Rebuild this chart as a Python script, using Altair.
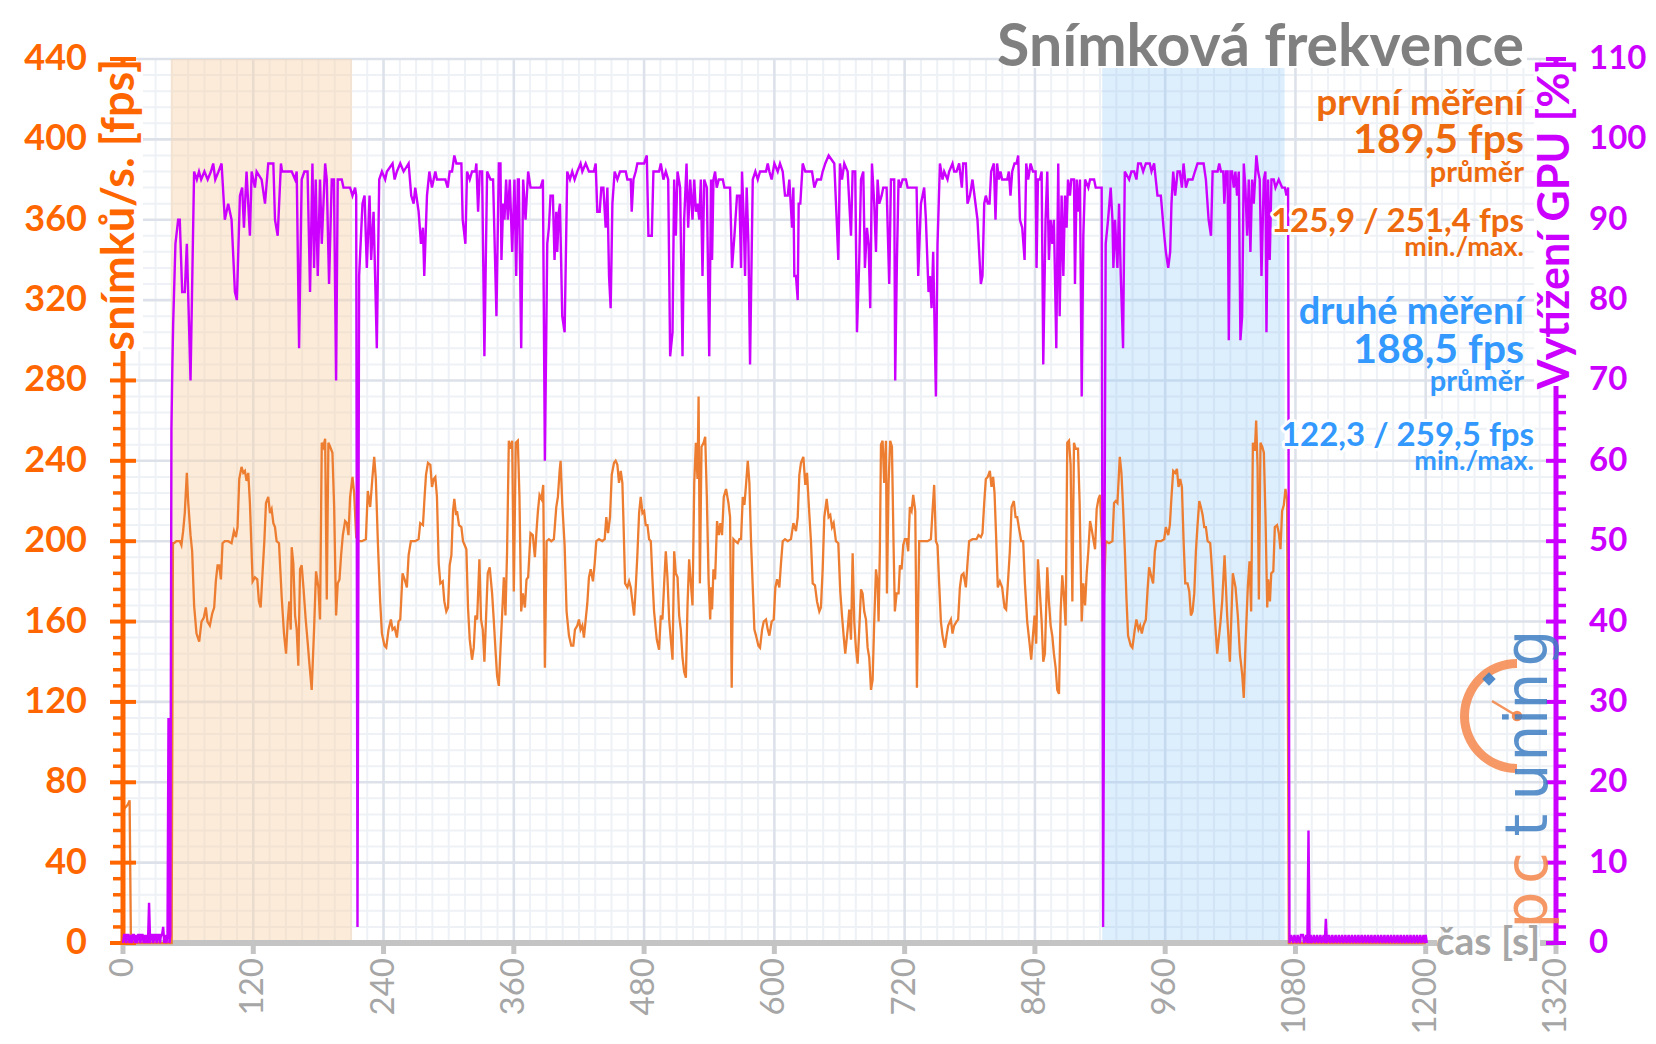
import altair as alt
import pandas as pd

# ---------------- data ----------------
# frame rate [fps] : (time s, fps)
fps_points = [
(0,62),(1.2,67),(3,68),(4.5,69),(6.1,71),(7.3,0),(44.8,0),(46,199),(47.1,199),(49.2,200),(52.3,200),(53.8,198),
(55.4,205),(56.9,214),(58.8,234),(60,220),(62.2,203),(63.7,195),(65.5,168),(67.7,154),(70.2,150),(72.3,160),
(74.5,162),(76.3,167),(77.8,160),(80,158),(82.2,164),(84,167),(85.5,180),(87.1,188),(88.6,188),(90.2,181),
(91.7,199),(93.8,200),(96.9,200),(100,199),(102.2,205),(104,202),(105.5,207),(107.1,231),(109.2,237),(110.8,234),
(112.3,235),(113.8,230),(115.4,234),(116.9,219),(119.4,180),(121.5,182),(123.7,181),(125.2,170),(126.8,167),
(128.3,182),(130.2,200),(131.7,219),(133.8,222),(135.4,214),(136.9,216),(138.5,209),(140,207),(141.5,200),
(143.7,199),(146.2,172),(148.3,154),(150.2,144),(151.7,160),(153.2,170),(154.5,156),(155.4,197),(156.9,189),
(158.5,163),(160,156),(161.5,138),(163.1,186),(164.6,188),(166.2,177),(168.3,161),(170.2,149),(171.7,139),
(173.8,126),(176,156),(177.8,185),(180,177),(181.5,161),(183.1,249),(184.6,247),(186.2,251),(187.7,171),
(189.2,249),(190.8,247),(192.9,244),(194.5,217),(196.3,163),(197.8,179),(199.4,181),(200.9,193),(202.5,203),
(204.6,210),(206.2,209),(207.7,203),(209.2,222),(211.4,232),(212.9,224),(214.8,202),(216.9,200),(220,200),
(223.7,201),(225.5,225),(227.7,217),(229.8,232),(231.4,242),(232.9,231),(234.8,199),(236.9,170),(238.5,154),
(240.9,148),(242.5,147),(244.6,156),(246.8,161),(248.3,156),(250.2,157),(252.3,152),(253.8,160),(255.4,161),
(257.5,184),(259.4,181),(261.5,177),(263.1,193),(265.2,200),(269.2,200),(272.3,201),(273.8,209),(276.3,208),
(277.8,222),(279.1,233),(280.9,239),(283.1,238),(284.6,227),(286.2,231),(287.7,232),(289.2,222),(290.8,189),
(292.3,179),(294.5,180),(296,170),(297.8,165),(299.4,167),(300.9,188),(302.5,193),(304,215),(305.2,221),
(306.8,213),(307.7,215),(309.5,208),(311.7,207),(313.2,200),(314.8,198),(316.3,196),(317.8,167),(319.4,151),
(321.5,141),(323.1,147),(324.6,163),(326.2,161),(328.3,191),(329.8,161),(331.4,156),(332.9,140),(334.5,163),
(336,184),(337.8,187),(340,174),(341.5,161),(343.1,146),(344.6,133),(346.2,128),(347.7,146),(349.2,163),
(350.8,182),(352.3,163),(353.8,195),(355.4,250),(356.9,246),(358.5,250),(360,175),(361.8,249),(363.7,250),
(365.2,222),(366.8,165),(368.3,174),(370.2,167),(371.7,181),(373.2,182),(375.4,204),(377.5,203),(379.4,192),
(380.9,205),(382.2,215),(383.7,223),(385.5,221),(387.1,228),(388.6,137),(390.2,200),(392.3,201),(394.5,200),
(396.9,201),(399.1,217),(400.6,222),(402.2,235),(403.1,240),(404.6,219),(406.8,198),(408.6,165),(410.8,153),
(412.9,148),(414.8,148),(416.3,156),(418.5,158),(420,161),(421.5,156),(423.1,158),(424.6,152),(426.2,161),
(427.7,169),(429.2,182),(430.8,186),(432.9,180),(434.5,189),(436,200),(438.5,201),(441.5,200),(443.7,201),
(445.2,212),(446.8,204),(448.6,212),(450.2,233),(452.3,239),(453.8,240),(455.4,238),(456.9,229),(458.5,235),
(460,229),(460.9,212),(462.5,179),(464.6,177),(466.2,180),(467.7,177),(469.2,170),(470.8,163),(472.3,177),
(473.8,193),(475.4,214),(476.9,222),(478.5,214),(480,215),(481.5,208),(483.1,208),(484.6,201),(486.2,200),
(487.7,181),(489.2,165),(491.7,151),(493.8,146),(495.4,163),(496.9,161),(498.5,179),(500,195),(501.5,182),
(503.1,161),(504.6,151),(506.2,141),(507.7,195),(509.2,184),(510.8,182),(512.3,163),(513.8,156),(515.4,142),
(516.9,135),(518.5,132),(520,168),(521.5,191),(523.1,179),(524.6,168),(526.2,229),(527.7,249),(529.2,231),
(530.2,272),(531.4,179),(532.9,247),(534.8,249),(536.3,252),(537.8,222),(539.4,181),(540.9,161),(541.7,177),
(542.6,166),(543.9,186),(545.4,181),(547.2,210),(548.8,203),(550.3,209),(551.8,203),(553.4,222),(555.5,226),
(557.7,219),(559.2,212),(560.7,127),(562.3,201),(564.1,200),(566.3,199),(567.8,201),(569.3,201),(570.9,222),
(572.4,218),(573.9,228),(575.5,240),(577,229),(578.5,200),(580.1,177),(581.6,156),(583.1,153),(585.3,148),
(586.8,147),(588.7,156),(590.2,160),(592.3,161),(593.9,156),(595.4,153),(597.5,160),(599.4,161),(600.9,177),
(602.5,181),(604.6,177),(606.1,189),(607.7,200),(609.8,201),(612.3,200),(615.3,201),(617.5,209),(619.9,205),
(621.5,212),(623,233),(624.5,239),(626.7,242),(628.5,228),(630.1,234),(631.6,219),(633.7,200),(635.3,179),
(637.4,178),(639.3,170),(641.4,165),(642.9,167),(644.5,186),(646,212),(648.2,221),(650,212),(651.5,213),
(653.1,207),(654.6,209),(656.7,200),(658.9,199),(660.7,175),(662.3,163),(663.8,153),(665.3,144),(667.5,156),
(669,166),(670.6,151),(672.1,194),(673.6,160),(675.2,146),(676.7,139),(678.2,156),(679.8,176),(681.3,174),
(682.8,165),(684.4,161),(685.9,147),(687.4,142),(689,126),(690.5,131),(692,160),(693.6,186),(695.1,179),
(696,160),(697.2,196),(698.2,248),(699.7,250),(701.2,229),(702.8,250),(703.7,174),(705.2,229),(706.7,250),
(708.3,247),(709.8,198),(711,165),(712.6,174),(714.4,174),(715.6,188),(717.2,186),(718.7,198),(720.2,201),
(721.8,201),(723.3,195),(724.8,217),(726.4,215),(727.9,223),(729.8,215),(731.3,127),(733.4,200),(736.5,200),
(741.1,200),(744.2,201),(745.7,215),(747.2,228),(748.8,200),(750.3,198),(751.8,179),(753.4,160),(754.9,153),
(757.1,147),(758.6,153),(760.1,158),(762.6,161),(764.1,154),(765.6,158),(767.8,160),(769.3,161),(770.9,177),
(772.4,183),(774.2,184),(776.4,177),(777.9,189),(779.4,200),(782.5,201),(786.2,201),(788,203),(790.2,202),
(791.7,204),(793.3,219),(794.8,231),(796.6,232),(798.5,235),(800,227),(801.5,232),(802.8,224),(804.3,202),
(805.8,177),(807.7,180),(809.8,177),(812,167),(813.5,166),(815.1,179),(816.9,195),(818.5,217),(820.6,220),
(822.2,212),(823.7,212),(825.8,205),(827.4,200),(829.2,200),(830.8,179),(832.9,160),(835.1,149),(836.6,141),
(838.2,153),(839.7,163),(841.2,149),(842.8,191),(844.3,177),(846.2,160),(847.7,140),(849.2,144),(851.4,187),
(852.9,170),(854.5,158),(856,153),(857.5,144),(859.1,137),(860.6,126),(862.2,124),(863.7,165),(865.2,183),
(866.8,172),(868.3,158),(869.8,249),(871.4,250),(872.9,238),(874.5,170),(876,249),(877.5,246),(879.7,246),
(881.2,219),(883.1,160),(884.6,179),(886.2,168),(887.7,184),(889.2,195),(890.8,210),(892.3,206),(893.8,201),
(895.4,196),(896.9,216),(898.5,221),(900,223),(901.5,202),(903.7,174),(905.2,200),(908.3,199),(911.4,200),
(912.9,219),(914.5,220),(916,219),(918.2,242),(919.7,234),(921.2,217),(922.8,196),(924.3,172),(925.8,153),
(928.3,148),(929.8,147),(932,156),(933.5,161),(935.4,156),(936.9,158),(938.5,154),(940,158),(942.2,161),
(943.7,175),(945.2,187),(947.4,182),(948.9,179),(950.5,195),(952,200),(956,200),(959.1,201),(960.6,207),
(962.8,203),(964.3,208),(965.8,222),(967.4,235),(969.2,234),(970.8,236),(972.3,227),(973.8,231),(975.4,227),
(976.9,201),(978.5,179),(980.6,179),(982.2,175),(983.7,163),(985.2,165),(986.8,174),(988.3,195),(989.8,208),
(991.4,220),(992.9,217),(994.5,213),(996,207),(997.5,207),(999.1,200),(1001.5,199),(1003.1,186),(1004.8,170),
(1007.9,144),(1011,160),(1012.5,170),(1014.7,193),(1017.1,163),(1019.6,140),(1022.3,184),(1024.8,177),
(1026.9,163),(1028.8,144),(1030.9,134),(1032.4,122),(1034,149),(1036.1,177),(1037.7,190),(1039.2,165),
(1040.8,249),(1042.6,245),(1043.8,260),(1045.1,237),(1046.3,171),(1047.8,249),(1049.4,247),(1050.9,244),
(1052.4,212),(1054,167),(1054.9,181),(1056.5,170),(1057.7,184),(1059.6,185),(1061,207),(1063.1,208),
(1064.7,204),(1066.2,196),(1067.7,215),(1069.3,218),(1070.8,226),(1072.3,221),(1073.9,0),(1200,0)]

# GPU load [%] : (time s, %)
gpu_points = [
(0,0),(1,1),(2,1),(3,0),(4,1),(5,1),(6,0),(7,1),(8,0),(9,1),(10,1),(11,0),(12,1),(13,0),(14,1),(15,1),(16,0),
(17,1),(18,1),(19,0),(20,1),(21,0),(22,1),(23,0),(24,5),(25,0),(26,1),(27,1),(28,0),(29,1),(30,1),(31,0),(32,1),
(33,1),(34,0),(35,1),(36,1),(37,2),(38,0),(39,1),(40,0),(41,1),(41.9,28),(42.8,0),(43.6,1),
(44.6,64),(45.5,72),(46.2,77),(48.3,87),(50.8,90),(52.3,90),(54.5,81),(56.9,81),(58.8,87),(62.2,70),(65.5,96),
(68,95),(70,96),(72,95),(75,96),(78,95),(81,96),(83.1,97),(85,95),(88,96),(90.8,97),(93.8,90),(96.9,92),(100,90),
(103.1,81),(104.9,80),(107.7,93),(109.8,94),(111.4,89),(113.8,96),(116.9,88),(118.5,96),(121.5,94),(123.1,96),
(127.7,95),(130.8,92),(133.8,97),(138.5,97),(140,90),(142.5,88),(145.5,97),(146.5,96),(155.4,96),(158.5,95),
(160,96),(162.2,74),(164.6,95),(167.1,96),(170,96),(172.3,81),(174.5,97),(176,84),(177.5,95),(179.4,83),
(181.5,95),(183.1,87),(186.2,97),(187.7,95),(189.8,82),(192.3,95),(194.3,95),(196.3,70),(197.8,95),(201.5,95),
(203.1,94),(209.2,94),(211.4,93),(213.8,94),(214.8,93),(216,2),(217.5,83),(220.6,92),(222.5,93),(224.6,84),
(227.1,93),(228.6,85),(230.8,91),(233.8,74),(236,95),(238.5,96),(241.5,95),(243.1,96),(248.3,97),(250.2,95),
(252.3,96),(255.4,97),(258.5,96),(263.1,97),(265.5,93),(267.7,92),(269.2,94),(272.3,91),(274.5,87),(276.3,89),
(277.5,83),(280,93),(282.2,96),(284.6,94),(287.7,96),(289.2,95),(296.9,95),(299.1,94),(300.9,96),(303.1,96),
(305.2,98),(307.1,97),(311.7,97),(312.9,90),(315.4,87),(316.9,96),(319.4,95),(321.5,96),(324.6,96),(325.5,97),
(327.1,91),(328.6,96),(330.8,96),(332.9,73),(335.4,96),(338.5,95),(340.9,95),(344,78),(346.2,97),(347.7,97),
(348.6,85),(350.2,92),(351.4,90),(352.9,95),(354.5,90),(356.3,95),(358.5,86),(360.6,95),(362.2,83),(363.7,95),
(364.6,95),(366.8,74),(368.6,95),(370.8,90),(373.2,96),(375.4,94),(384.6,94),(386.8,95),(388.6,60),(390.8,87),
(392.3,89),(393.8,93),(396,93),(397.5,85),(399.1,91),(400,86),(401.5,91),(402.5,92),(404.6,78),(406.8,76),
(409.2,96),(411.7,95),(413.8,96),(416,95),(418.5,96),(421.5,97),(423.1,96),(426.2,97),(429.2,96),(433.8,96),
(435.4,97),(436.9,91),(439.1,91),(440.6,94),(442.5,94),(444.6,89),(446.2,94),(447.7,83),(449.2,79),(450.8,92),
(452.9,96),(455.4,95),(457.8,96),(463.1,96),(464.6,95),(467.7,95),(468.6,91),(470.2,95),(472.3,96),(473.8,97),
(480,97),(482.5,98),(484,88),(487.1,88),(488.6,96),(493.8,96),(495.4,97),(497.8,95),(500,96),(502.2,95),(504,73),
(506.2,76),(507.7,95),(509.2,88),(510.8,96),(513.2,94),(515.4,73),(516.9,90),(519.1,97),(520.6,89),(522.5,95),
(524.6,90),(526.2,95),(527.7,91),(529.2,92),(530.8,90),(532.3,95),(533.8,83),(535.4,95),(537.8,94),(540,73),
(541.7,95),(542.6,85),(543.9,95),(545.4,96),(546.9,94),(548.8,95),(552.5,95),(554,94),(559.2,94),(561,84),
(563.2,88),(565.6,93),(567.8,93),(569.3,84),(570.2,96),(571.8,90),(573,83),(574.5,94),(576.1,87),(577.6,72),
(580.1,95),(582.5,96),(584.7,95),(586.8,96),(592.3,96),(593.9,97),(595.4,96),(597.5,95),(600,97),(603.1,96),
(605.2,97),(607.7,96),(609.8,93),(612.3,93),(613.8,95),(616.3,89),(617.5,94),(618.4,83),(619.9,83),(621.5,80),
(622.4,92),(623.9,92),(626.1,97),(628.5,96),(634.7,96),(636.8,94),(639.3,95),(642.9,95),(644.5,96),(646.9,97),
(650,98),(655.2,97),(657.4,90),(658.9,85),(660.4,97),(662.3,95),(664.4,97),(667.5,96),(670.6,88),(672.1,96),
(674.5,96),(676.1,76),(678.2,85),(679.8,95),(681.9,96),(683.4,84),(685.3,89),(686.8,87),(688.3,79),(689.9,97),
(692,92),(693.6,86),(695.1,95),(696.6,92),(698.8,93),(700.3,94),(703.4,94),(705.8,82),(707.4,95),(710.4,95),
(711.3,70),(712.9,85),(714.4,95),(716,94),(718.1,95),(721.2,95),(722.7,94),(731,94),(732.5,83),(735,92),
(738,94),(739.6,90),(742,81),(743.3,83),(744.8,79),(746.3,86),(748.8,68),(750.3,87),(752.5,97),(754.9,95),
(756.4,96),(759.5,95),(761,96),(764.1,97),(765.6,96),(767.8,96),(770.2,97),(772.7,94),(773.9,97),(776.4,97),
(777.9,92),(780.1,93),(782.5,95),(787.1,90),(790.2,82),(791.7,83),(793.3,92),(794.8,93),(796.6,92),(798.2,92),
(799.7,96),(802.2,97),(803.7,90),(805.2,97),(806.8,95),(808.3,96),(809.8,95),(814.5,95),(816,96),(817.5,93),
(819.1,96),(821.2,97),(823.1,97),(824.6,98),(826.2,90),(828.3,89),(830.5,85),(832,97),(833.8,95),(836,97),
(838.2,96),(840.6,96),(841.5,84),(842.8,95),(844.6,95),(846.2,96),(847.7,72),(849.8,90),(851.4,96),(852.9,85),
(854.5,90),(856,87),(857.5,90),(859.7,74),(861.5,97),(862.8,78),(864.6,93),(866.2,83),(867.7,93),(869.2,89),
(870.5,95),(872.3,93),(873.5,95),(876,95),(876.9,82),(878.5,95),(880,91),(881.5,95),(883.1,68),(884.6,88),
(886.2,95),(889.2,94),(890.8,95),(894.5,95),(896,94),(901.5,94),(902.8,2),(905.2,87),(907.4,90),(909.8,94),
(911.4,90),(912.3,84),(913.8,90),(916,84),(917.5,92),(919.1,83),(921.2,74),(922.8,96),(926.8,95),(928.9,96),
(931.4,96),(933.5,95),(935.1,97),(937.5,97),(939.7,96),(942.2,97),(945.8,97),(947.4,96),(949.8,97),(952.9,93),
(956,93),(958.5,89),(960.6,86),(962.8,84),(964.6,86),(965.8,92),(967.4,96),(969.2,93),(971.4,96),(973.5,96),
(975.4,94),(976.9,97),(979.1,94),(981.2,95),(985.2,95),(987.4,96),(989.8,97),(995.4,97),(997.5,95),(1000,90),
(1002.2,88),(1003.7,96),(1008.3,96),(1009.8,97),(1011.4,96),(1013.5,96),(1014.5,92),(1016,96),(1017.5,96),
(1018.6,75),(1020.1,96),(1021.6,96),(1023.2,94),(1024.7,96),(1026.2,93),(1027.8,96),(1029.3,75),(1030.9,78),
(1032.4,97),(1033.9,94),(1035.5,88),(1037,95),(1038.5,86),(1040.1,95),(1041.6,92),(1044,98),(1045.6,96),
(1047.1,95),(1048.7,83),(1050.8,95),(1052.3,96),(1053.3,76),(1054.8,95),(1056.3,85),(1057.9,95),(1060,95),
(1061.6,94),(1064.6,95),(1067.7,94),(1070.2,94),(1071.7,93),(1073.2,94),(1074.5,0),(1076,1),(1078,0),(1079,1),
(1081,0),(1082,1),(1084,0),(1085,1),(1087,1),(1088,0),(1090,1),(1091,0),(1092,14),(1093,0),(1094,1),(1095,0),
(1097,1),(1098,0),(1100,1),(1101,0),(1103,1),(1104,0),(1106,1),(1107,0),(1108,3),(1109,0),(1111,1),(1112,0),
(1114,1),(1115,0),(1117,1),(1118,0),(1120,1),(1121,0),(1123,1),(1124,0),(1126,1),(1127,0),(1129,1),(1130,0),
(1132,1),(1133,0),(1135,1),(1136,0),(1138,1),(1139,0),(1141,1),(1142,0),(1144,1),(1145,0),(1147,1),(1148,0),
(1150,1),(1151,0),(1153,1),(1154,0),(1156,1),(1157,0),(1159,1),(1160,0),(1162,1),(1163,0),(1165,1),(1166,0),
(1168,1),(1169,0),(1171,1),(1172,0),(1174,1),(1175,0),(1177,1),(1178,0),(1180,1),(1181,0),(1183,1),(1184,0),
(1186,1),(1187,0),(1189,1),(1190,0),(1192,1),(1193,0),(1195,1),(1196,0),(1198,1),(1199,0),(1200,1),(1201,0)]

# measurement windows [s]
first_window = [44, 211]
second_window = [902, 1070]

# axes ticks
x_major = [0, 120, 240, 360, 480, 600, 720, 840, 960, 1080, 1200, 1320]
x_minor = [v for v in range(0, 1321, 15) if v % 120]
y_major = [0, 40, 80, 120, 160, 200, 240, 280, 320, 360, 400, 440]
y_minor = [v for v in range(0, 441, 8) if v % 40]
r_major = [0, 10, 20, 30, 40, 50, 60, 70, 80, 90, 100, 110]
r_minor = [v for v in range(0, 111, 2) if v % 10]

# texts
title_text = "Snímková frekvence"
first_texts = ["první měření", "189,5 fps", "průměr", "125,9 / 251,4 fps", "min./max."]
second_texts = ["druhé měření", "188,5 fps", "průměr", "122,3 / 259,5 fps", "min./max."]
left_title = "snímků/s. [fps]"
right_title = "Vytížení GPU [%]"
x_title = "čas [s]"
logo_letters = ["p", "c", "t", "u", "n", "i", "n", "g"]

# ---------------- styling ----------------
W, H = 1433, 884
FONT = "Lato"
AX_OR = "#ff6600"
TXT_OR = "#ee6a0e"
BLUE = "#3399ff"
PURPLE = "#cc00ff"
LINE_OR = "#ed7d31"
GRAY = "#a6a6a6"
AXGRAY = "#c4c4c4"

xs = alt.Scale(domain=[0, 1320], nice=False, zero=False)
ysl = alt.Scale(domain=[0, 440], nice=False)
ysr = alt.Scale(domain=[0, 110], nice=False)

fps_df = pd.DataFrame(fps_points, columns=["t", "v"])
gpu_df = pd.DataFrame(gpu_points, columns=["t", "g"])


def one():
    return alt.Chart(pd.DataFrame({"k": [0]}))


def white_box(x0, x1, y0, y1):
    return one().mark_rect(color="white").encode(
        x=alt.value(x0), x2=alt.value(x1), y=alt.value(y0), y2=alt.value(y1))


def text_layers(s, x, y, size, color, align="right", angle=0, weight="bold",
                font=FONT, halo=0, opacity=1.0, baseline="middle"):
    base = alt.Chart(pd.DataFrame({"t": [s]}))
    enc = dict(x=alt.value(x), y=alt.value(y), text="t:N")
    kw = dict(align=align, baseline=baseline, fontSize=size, font=font,
              fontWeight=weight, angle=angle)
    out = []
    if halo:
        out.append(base.mark_text(color="white", stroke="white", strokeWidth=halo,
                                  strokeJoin="round", **kw).encode(**enc))
    out.append(base.mark_text(color=color, opacity=opacity, **kw).encode(**enc))
    return out


X = lambda f: alt.X(f, scale=xs, axis=None)
YL = lambda f: alt.Y(f, scale=ysl, axis=None)
YR = lambda f: alt.Y(f, scale=ysr, axis=None)

# shading of the two measurement windows
shade1 = alt.Chart(pd.DataFrame({"a": [first_window[0]], "b": [first_window[1]]})).mark_rect(
    color="#f9d2aa", opacity=0.45).encode(x=X("a:Q"), x2="b:Q")
shade2 = alt.Chart(pd.DataFrame({"a": [second_window[0]], "b": [second_window[1]]})).mark_rect(
    color="#99ccf8", opacity=0.33).encode(x=X("a:Q"), x2="b:Q")

# grid
gx_minor = alt.Chart(pd.DataFrame({"x": x_minor})).mark_rule(color="#eef1f5", strokeWidth=2).encode(x=X("x:Q"))
gx_major = alt.Chart(pd.DataFrame({"x": x_major[1:-1]})).mark_rule(color="#dde2ea", strokeWidth=2.6).encode(x=X("x:Q"))
gy_minor = alt.Chart(pd.DataFrame({"y": y_minor})).mark_rule(color="#eef1f5", strokeWidth=2).encode(y=YL("y:Q"))
gy_major = alt.Chart(pd.DataFrame({"y": y_major[1:]})).mark_rule(color="#dde2ea", strokeWidth=2.6).encode(y=YL("y:Q"))

# data lines
fps_line = alt.Chart(fps_df).mark_line(color=LINE_OR, strokeWidth=2.3).encode(x=X("t:Q"), y=YL("v:Q"))
gpu_line = alt.Chart(gpu_df).mark_line(color=PURPLE, strokeWidth=2.4).encode(x=X("t:Q"), y=YR("g:Q"))

# x axis (drawn with the x scale)
xlab_df = pd.DataFrame({"x": x_major, "lab": [str(v) for v in x_major]})
x_domain = one().mark_rule(color=AXGRAY, strokeWidth=6).encode(
    x=alt.value(0), x2=alt.value(W), y=alt.value(H))
x_ticks = alt.Chart(xlab_df).mark_rule(color=AXGRAY, strokeWidth=5).encode(
    x=X("x:Q"), y=alt.value(H), y2=alt.value(H + 11))
x_labels = alt.Chart(xlab_df).mark_text(angle=270, align="right", baseline="middle", font=FONT,
                                        fontSize=33, color=GRAY).encode(
    x=X("x:Q"), y=alt.value(H + 15), text="lab:N")

# left axis
ylab_df = pd.DataFrame({"v": y_major, "lab": [str(v) for v in y_major]})
l_domain = one().mark_rule(color=AX_OR, strokeWidth=5).encode(
    x=alt.value(0), y=alt.value(0), y2=alt.value(H))
lt_major = alt.Chart(ylab_df).mark_rule(color=AX_OR, strokeWidth=4).encode(
    y=YL("v:Q"), x=alt.value(-13), x2=alt.value(13))
lt_minor = alt.Chart(pd.DataFrame({"v": y_minor})).mark_rule(color=AX_OR, strokeWidth=3.5).encode(
    y=YL("v:Q"), x=alt.value(-10), x2=alt.value(1))
l_labels = alt.Chart(ylab_df).mark_text(align="right", baseline="middle", font=FONT, fontSize=36,
                                        fontWeight="bold", color=AX_OR).encode(
    y=YL("v:Q"), x=alt.value(-36), text="lab:N")

# right axis
rlab_df = pd.DataFrame({"v": r_major, "lab": [str(v) for v in r_major]})
r_domain = one().mark_rule(color=PURPLE, strokeWidth=5).encode(
    x=alt.value(W), y=alt.value(0), y2=alt.value(H))
rt_major = alt.Chart(rlab_df).mark_rule(color=PURPLE, strokeWidth=4).encode(
    y=YR("v:Q"), x=alt.value(W - 10), x2=alt.value(W + 10))
rt_minor = alt.Chart(pd.DataFrame({"v": r_minor})).mark_rule(color=PURPLE, strokeWidth=3.5).encode(
    y=YR("v:Q"), x=alt.value(W - 1), x2=alt.value(W + 10))
r_labels = alt.Chart(rlab_df).mark_text(align="left", baseline="middle", font=FONT, fontSize=33,
                                        fontWeight="bold", color=PURPLE).encode(
    y=YR("v:Q"), x=alt.value(W + 33), text="lab:N")

# logo (watermark)
LOGO_OR = "#f4874b"
LOGO_BL = "#3f7fc4"
logo = [
    one().mark_arc(color=LOGO_OR, opacity=0.85, radius=57, radius2=48,
                   theta=3.1416, theta2=6.2832).encode(x=alt.value(1394), y=alt.value(657)),
    one().mark_rule(color=LOGO_OR, strokeWidth=2.5, opacity=0.9).encode(
        x=alt.value(1369), x2=alt.value(1394), y=alt.value(642), y2=alt.value(657)),
    one().mark_circle(color=LOGO_OR, size=110, opacity=0.95).encode(x=alt.value(1394), y=alt.value(657)),
    one().mark_square(color=LOGO_BL, size=90, opacity=0.9, angle=45).encode(x=alt.value(1366), y=alt.value(620)),
]
letter_y = [851, 809, 766, 723, 684, 658, 632, 589]
for i, (ch, ly) in enumerate(zip(logo_letters, letter_y)):
    logo += text_layers(ch, 1424, ly, 58, LOGO_OR if i < 2 else LOGO_BL, align="center", angle=270,
                        weight="normal", font="DejaVu Sans", opacity=0.85, baseline="alphabetic")

texts = [white_box(880, 1404, -44, 9)]
texts += text_layers(title_text, 1401, -11, 59, "#808080")
ys1 = [45, 82, 114, 163, 189]
ys2 = [254, 292, 323, 377, 403]
sizes1 = [37, 41, 29, 33, 27]
sizes2 = [38, 41, 29, 33, 27]
halos = [0, 0, 0, 6, 0]
for s, y, fs, hl in zip(first_texts, ys1, sizes1, halos):
    texts += text_layers(s, 1401, y, fs, TXT_OR, halo=hl)
for i, (s, y, fs, hl) in enumerate(zip(second_texts, ys2, sizes2, halos)):
    texts += text_layers(s, 1411 if i >= 3 else 1401, y, fs, BLUE, halo=hl)

left_titles = [white_box(-24, 20, 5, 292)]
left_titles += text_layers(left_title, -3, 0, 45, AX_OR, align="right", angle=270)
left_titles += [white_box(1314, 1417, H - 6, H + 6)]
left_titles += text_layers(x_title, 1365, H, 39, GRAY, align="center")

left_group = alt.layer(gx_minor, gy_minor, gx_major, gy_major, shade1, shade2,
                       x_domain, x_ticks, x_labels,
                       fps_line, l_domain, lt_minor, lt_major, l_labels,
                       *left_titles)
right_title_layers = [white_box(W - 22, W + 22, 5, 327)]
right_title_layers += text_layers(right_title, W, 0, 43, PURPLE, align="right", angle=270)
right_group = alt.layer(gpu_line, r_domain, rt_minor, rt_major, r_labels,
                        *logo, *texts, *right_title_layers)

chart = alt.layer(left_group, right_group).resolve_scale(y="independent").properties(
    width=W, height=H,
    padding={"left": 115, "top": 51, "right": 92, "bottom": 93},
    autosize=alt.AutoSizeParams(type="none"),
    background="white",
).configure_view(stroke=None)

chart.save("out.html", embed_options={"renderer": "svg", "actions": False})
